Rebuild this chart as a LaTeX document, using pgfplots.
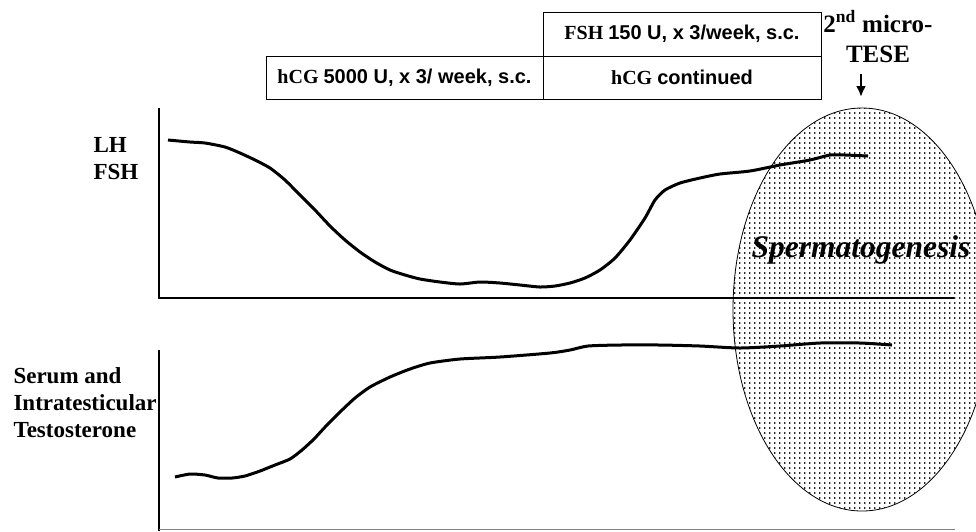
\documentclass[border=0pt]{standalone}
\usepackage{pgfplots}
\pgfplotsset{compat=1.18}
\usepackage{fontspec}
\setmainfont{Liberation Serif}
\newfontfamily\arial{Liberation Sans}
\usetikzlibrary{patterns,arrows.meta}
\pgfdeclarepatternformonly{mydots}{\pgfpointorigin}{\pgfpoint{4.5pt}{4.5pt}}{\pgfpoint{4.5pt}{4.5pt}}
  {\pgfpathrectangle{\pgfpointorigin}{\pgfpoint{1.6pt}{2pt}}\pgfusepath{fill}}
\begin{document}
\begin{tikzpicture}
\useasboundingbox (0,-531pt) rectangle (976pt,0pt);
\clip (0,-531pt) rectangle (976pt,0pt);
\begin{axis}[x=1pt, y=1pt, y dir=reverse, xmin=0, xmax=976, ymin=0, ymax=531,
  hide axis, clip=false, anchor=origin, at={(0,0)}]
% spermatogenesis ellipse
\fill[white] (axis cs:862,309.5) ellipse [x radius=129pt, y radius=201.5pt];
\path[pattern=mydots, pattern color=black!85, draw=black, line width=0.8pt] (axis cs:862,309.5) ellipse [x radius=129pt, y radius=201.5pt];
% axes of the two panels
\addplot[black, line width=2.4pt] coordinates {(159,108) (159,298) (954,298)};
\addplot[black, line width=2.4pt] coordinates {(159,350) (159,531)};
\addplot[black!50, line width=1.8pt] coordinates {(159,529.5) (955,529.5)};
% LH / FSH
\addplot[black, line width=3pt, smooth, tension=0.4] coordinates {
(168,140) (190,142) (205,143) (225,147) (240,153) (255,160) (270,168) (285,180)
(300,195) (315,210) (330,226) (345,240) (360,252) (375,262) (390,270) (405,275)
(420,279) (440,282) (460,284) (480,282) (500,283) (520,285) (540,287) (555,286)
(570,283) (585,278) (600,270) (615,258) (630,240) (645,218) (655,200) (665,190)
(680,183) (700,178) (720,174) (750,171) (780,165) (810,160) (830,155) (845,155) (868,156)};
% Testosterone
\addplot[black, line width=3pt, smooth, tension=0.4] coordinates {
(175,477) (190,474) (205,475) (218,478) (232,478) (245,476) (260,471) (275,465)
(290,459) (302,450) (314,439) (326,426) (340,412) (355,398) (370,387) (390,377)
(410,369) (430,363) (460,359) (500,357) (550,353) (570,350) (588,346) (620,345)
(660,345) (700,346) (740,348) (780,346) (820,343) (860,343) (892,345)};
% arrow
\draw[-{Latex[length=11pt,width=10pt]}, line width=2.2pt] (axis cs:861,74) -- (axis cs:861,97);
% boxes
\draw[line width=0.9pt] (axis cs:543,12) rectangle (axis cs:821,56);
\draw[line width=0.9pt] (axis cs:266,56) rectangle (axis cs:543,99);
\draw[line width=0.9pt] (axis cs:543,56) rectangle (axis cs:821,99);
\node[font=\fontsize{20}{22}\selectfont\bfseries] at (axis cs:682,34) {FSH {\arial 150 U, x 3/week, s.c.}};
\node[font=\fontsize{20}{22}\selectfont\bfseries] at (axis cs:404.5,77.5) {hCG {\arial 5000 U, x 3/ week, s.c.}};
\node[font=\fontsize{20}{22}\selectfont\bfseries] at (axis cs:682,77.5) {hCG {\arial continued}};
% labels
\node[anchor=base, font=\fontsize{25}{28}\selectfont\bfseries] at (axis cs:878,32) {2\textsuperscript{nd} micro-};
\node[anchor=base, font=\fontsize{25}{28}\selectfont\bfseries] at (axis cs:878,62) {TESE};
\node[anchor=base west, font=\fontsize{23}{26}\selectfont\bfseries] at (axis cs:90,152) {LH};
\node[anchor=base west, font=\fontsize{23}{26}\selectfont\bfseries] at (axis cs:90,179) {FSH};
\node[anchor=base west, font=\fontsize{23}{26}\selectfont\bfseries] at (axis cs:10,383) {Serum and};
\node[anchor=base west, font=\fontsize{23}{26}\selectfont\bfseries] at (axis cs:10,410) {Intratesticular};
\node[anchor=base west, font=\fontsize{23}{26}\selectfont\bfseries] at (axis cs:10,437) {Testosterone};
\node[anchor=base, font=\fontsize{31.5}{34}\selectfont\bfseries\itshape] at (axis cs:861,257) {Spermatogenesis};
\end{axis}
\end{tikzpicture}
\end{document}
